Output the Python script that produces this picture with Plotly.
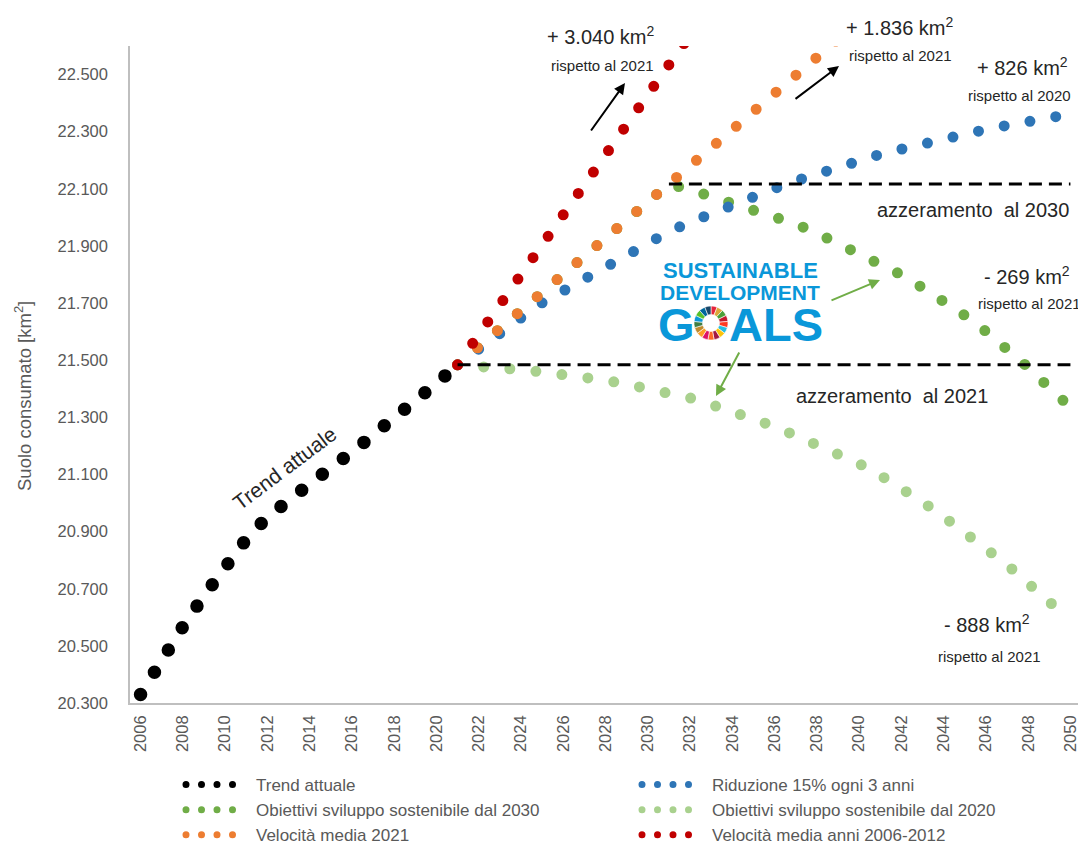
import plotly.graph_objects as go

# ---------------- data ----------------
years_trend = [2006, 2007, 2008, 2009, 2010, 2011, 2012, 2013, 2014, 2015,
               2016, 2017, 2018, 2019, 2020, 2021]
trend_attuale = [20330, 20457, 20567, 20675, 20779, 20873, 20951, 21013, 21069, 21124,
                 21178, 21235, 21297, 21359, 21419, 21484]

years_scen = [2021, 2022, 2023, 2024, 2025, 2026, 2027, 2028, 2029, 2030,
              2031, 2032, 2033, 2034, 2035, 2036, 2037, 2038, 2039, 2040,
              2041, 2042, 2043, 2044, 2045, 2046, 2047, 2048, 2049, 2050]

riduzione_15 = [21484, 21541, 21600, 21648, 21701, 21743, 21790, 21832, 21872, 21913,
                21950, 21983, 22015, 22045, 22073, 22101, 22128, 22153, 22177, 22200,
                22221, 22239, 22258, 22276, 22293, 22308, 22322, 22336, 22350, 22362]

sdg_2030 = [21484, 21547, 21611, 21674, 21737, 21801, 21864, 21927, 21990, 22054,
            22117, 22097, 22073, 22053, 22028, 22003, 21977, 21945, 21911, 21877,
            21841, 21799, 21754, 21708, 21657, 21601, 21542, 21475, 21404, 21335]

sdg_2020 = [21484, 21475, 21472, 21468, 21460, 21453, 21443, 21430, 21416, 21401,
            21385, 21368, 21345, 21321, 21296, 21268, 21236, 21206, 21175, 21138,
            21097, 21054, 21004, 20952, 20898, 20845, 20784, 20719, 20652, 20590]

years_v2021 = [2021, 2022, 2023, 2024, 2025, 2026, 2027, 2028, 2029, 2030,
               2031, 2032, 2033, 2034, 2035, 2036, 2037, 2038, 2039, 2040]
velocita_2021 = [21484, 21547, 21611, 21674, 21737, 21801, 21864, 21927, 21990, 22054,
                 22117, 22180, 22244, 22307, 22370, 22434, 22497, 22560, 22623, 22687]

years_v0612 = [2021, 2022, 2023, 2024, 2025, 2026, 2027, 2028, 2029, 2030,
               2031, 2032, 2033]
velocita_0612 = [21484, 21589, 21694, 21799, 21904, 22009, 22114, 22219, 22324, 22429,
                 22534, 22639, 22744]

zero2021_years = [2021, 2050]
zero2021_vals = [21484, 21484]
zero2030_years = [2031, 2050]
zero2030_vals = [22117, 22117]

sdg_colors = ["#E5243B", "#DDA63A", "#4C9F38", "#C5192D", "#FF3A21", "#26BDE2",
              "#FCC30B", "#A21942", "#FD6925", "#DD1367", "#FD9D24", "#BF8B2E",
              "#3F7E44", "#0A97D9", "#56C02B", "#00689D", "#19486A"]
sdg_values = [1, 1, 1, 1, 1, 1, 1, 1, 1, 1, 1, 1, 1, 1, 1, 1, 1]

# ---------------- styling ----------------
W, H = 1086, 846
ML, MR, MT, MB = 122, 13, 38, 151
PW, PH = W - ML - MR, H - MT - MB

FONT = "Liberation Sans, Arial, sans-serif"
GRAY = "#595959"
DARK = "#262626"
SDG_BLUE = "#0A97D9"


def px(x):
    return (x - ML) / PW


def py(y):
    return (H - MB - y) / PH


DOT_BIG = "0px,26.2px"

fig = go.Figure()


def dotted(xv, yv, name, color, width, rank):
    fig.add_trace(go.Scatter(
        x=xv, y=yv, name=name, mode="lines",
        line=dict(color=color, width=width, dash=DOT_BIG),
        legendrank=rank, hoverinfo="skip"))


dotted(years_trend, trend_attuale, "Trend attuale", "#000000", 13.5, 1)
dotted(years_scen, sdg_2020, "Obiettivi sviluppo sostenibile dal 2020", "#A9D18E", 11, 4)
dotted(years_scen, sdg_2030, "Obiettivi sviluppo sostenibile dal 2030", "#70AD47", 11, 3)
dotted(years_scen, riduzione_15, "Riduzione 15% ogni 3 anni", "#2E75B6", 11, 2)
dotted(years_v2021, velocita_2021, "Velocità media 2021", "#ED7D31", 11, 5)
dotted(years_v0612, velocita_0612, "Velocità media anni 2006-2012", "#C00000", 11, 6)

for xv, yv in [(zero2021_years, zero2021_vals), (zero2030_years, zero2030_vals)]:
    fig.add_trace(go.Scatter(x=xv, y=yv, mode="lines", showlegend=False, hoverinfo="skip",
                             line=dict(color="#000000", width=3, dash="13px,7px")))

# SDG wheel (the "O" of GOALS)
cx, cy, r = 703, 315, 17
fig.add_trace(go.Pie(values=sdg_values, marker=dict(colors=sdg_colors, line=dict(color="white", width=0.6)),
                     hole=0.5, sort=False, direction="clockwise", rotation=0, textinfo="none",
                     hoverinfo="skip", showlegend=False,
                     domain=dict(x=[px(cx - r), px(cx + r)], y=[py(cy + r), py(cy - r)])))

ann = []


def txt(x, y, text, size, color=DARK, angle=0, bold=False):
    if bold:
        text = "<b>" + text + "</b>"
    ann.append(dict(x=px(x), y=py(y), xref="paper", yref="paper", text=text, showarrow=False,
                    xanchor="center", yanchor="middle", textangle=angle,
                    font=dict(family=FONT, size=size, color=color)))


def arrow(x_tail, y_tail, x_head, y_head, color, width=2):
    ann.append(dict(x=px(x_head), y=py(y_head), xref="paper", yref="paper", text="",
                    showarrow=True, ax=x_tail - x_head, ay=y_tail - y_head,
                    arrowhead=2, arrowsize=1.1, arrowwidth=width, arrowcolor=color, standoff=0))


KM2 = " km<sup>2</sup>"
SMALL = 15
txt(593, 27, "+ 3.040" + KM2, 20)
txt(594, 57, "rispetto al 2021", SMALL)
txt(892, 18, "+ 1.836" + KM2, 20)
txt(892, 47, "rispetto al 2021", SMALL)
txt(1014, 58, "+ 826" + KM2, 20)
txt(1011, 87, "rispetto al 2020", SMALL)
txt(965, 202, "azzeramento\u00a0 al 2030", 20)
txt(1019, 267, "- 269" + KM2, 20)
txt(1021, 295, "rispetto al 2021", SMALL)
txt(884, 388, "azzeramento\u00a0 al 2021", 20)
txt(979, 615, "- 888" + KM2, 20)
txt(981, 648, "rispetto al 2021", SMALL)
txt(276, 460, "Trend attuale", 21, angle=-37)

# y-axis title (sits below the axis middle in the reference)
txt(15, 388, "Suolo consumato [km<sup>2</sup>]", 18.5, color=GRAY, angle=-90)

txt(732, 262, "SUSTAINABLE", 22, color=SDG_BLUE, bold=True)
txt(732, 284, "DEVELOPMENT", 21, color=SDG_BLUE, bold=True)
txt(668, 316, "G", 47, color=SDG_BLUE, bold=True)
txt(768, 316, "ALS", 47, color=SDG_BLUE, bold=True)

arrow(582, 124, 617, 75, "#000000")
arrow(786, 92, 831, 58, "#000000")
arrow(822, 293, 872, 272, "#70AD47")
arrow(732, 343, 708, 388, "#70AD47")

fig.update_layout(
    width=W, height=H,
    margin=dict(l=ML, r=MR, t=MT, b=MB, autoexpand=False),
    paper_bgcolor="white", plot_bgcolor="white",
    separators=",.",
    font=dict(family=FONT, color=GRAY),
    annotations=ann,
    showlegend=True,
    legend=dict(orientation="h", x=px(173), xanchor="left", y=py(759), yanchor="top",
                entrywidth=376, entrywidthmode="pixels", itemwidth=65,
                font=dict(family=FONT, size=17, color=GRAY),
                bgcolor="rgba(0,0,0,0)", traceorder="normal"),
)
fig.update_xaxes(range=[2005.5, 2050.5], tickmode="linear", tick0=2006, dtick=2,
                 tickangle=-90, showgrid=False, zeroline=False, showline=True,
                 linecolor="#BFBFBF", linewidth=1.5, ticks="", ticklabelstandoff=4,
                 tickfont=dict(family=FONT, size=16.5, color=GRAY))
fig.update_yaxes(range=[20300, 22600], tickmode="linear", tick0=20300, dtick=200,
                 tickformat=",d", showgrid=False, zeroline=False, showline=True,
                 linecolor="#BFBFBF", linewidth=1.5, ticks="", ticklabelstandoff=17,
                 tickfont=dict(family=FONT, size=16.5, color=GRAY))

post = """
var gd = document.getElementById('{plot_id}');
function fixDots(){
  gd.querySelectorAll('.scatterlayer .js-line').forEach(function(p){
    var d = (p.style.strokeDasharray || '').trim();
    if (d.indexOf('0px') === 0 || d.indexOf('0,') === 0 || d.indexOf('0 ') === 0) {
      p.style.strokeLinecap = 'round';
    }
  });
  gd.querySelectorAll('.legend .js-line').forEach(function(p){
    p.style.strokeLinecap = 'round';
    p.style.strokeWidth = '7px';
    p.style.strokeDasharray = '0px,15.5px,0px,15.5px,0px,15.5px,0px,400px';
  });
}
fixDots();
gd.on('plotly_afterplot', fixDots);
"""

fig.write_html("out.html", post_script=post)
